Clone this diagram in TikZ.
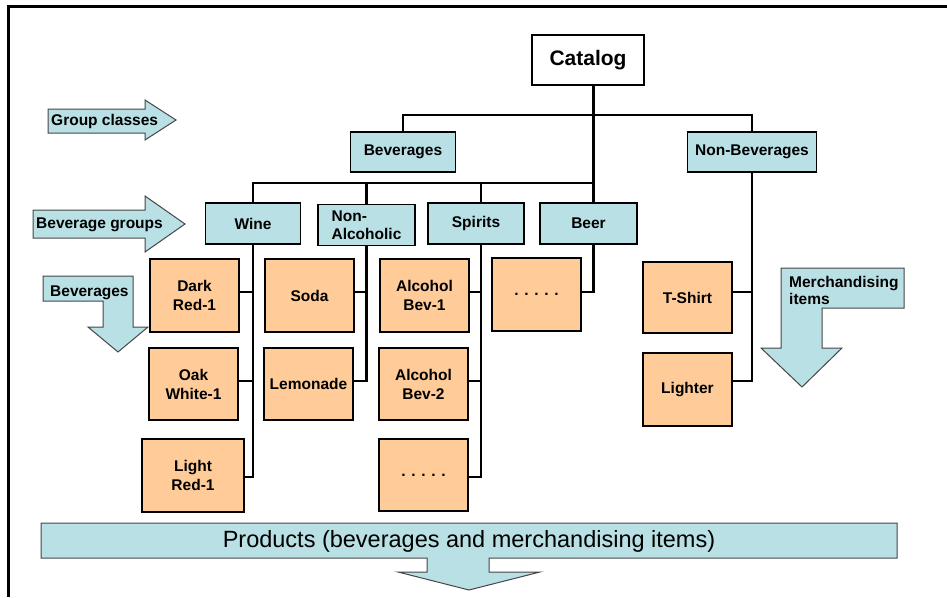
\documentclass[tikz,border=0pt]{standalone}
\usepackage{fontspec}
\setmainfont{Liberation Sans}
\definecolor{bluefill}{RGB}{185,224,228}
\definecolor{orangefill}{RGB}{255,204,153}
\definecolor{arrowline}{RGB}{70,70,70}
\begin{document}
\begin{tikzpicture}[x=1pt,y=-1pt,
  box/.style={draw=black, line width=1.8pt, inner sep=0pt, align=center,
    font=\bfseries\fontsize{15.5}{19}\selectfont},
  grp/.style={box, fill=bluefill, minimum height=41pt},
  item/.style={box, fill=orangefill, minimum width=89pt, minimum height=73pt},
  conn/.style={line width=2.9pt},
  arrowshape/.style={fill=bluefill, draw=arrowline, line width=1pt, line join=miter},
  lbl/.style={inner sep=0pt, font=\bfseries\fontsize{15.5}{19}\selectfont, align=left}]
\useasboundingbox (0,0) rectangle (947,597);
% frame
\draw[line width=3pt] (8,597) -- (8,6) -- (947,6);

% boxes
\node[box, fill=white, line width=2.8pt, minimum width=112pt, minimum height=50pt,
  font=\bfseries\fontsize{21}{25}\selectfont] (cat) at (588,60) {Catalog};
\node[grp, minimum width=105pt, minimum height=40pt] (bev) at (403,152) {Beverages};
\node[grp, minimum width=129pt, minimum height=40pt] (nb) at (752,152) {Non-Beverages};
\node[grp, minimum width=95pt] (wine) at (253,223.5) {Wine};
\node[grp, minimum width=97pt, align=left] (na) at (366.5,225) {Non-\\[-1pt]Alcoholic};
\node[grp, minimum width=96pt] (sp) at (476,223.5) {Spirits};
\node[grp, minimum width=97pt] (beer) at (588.5,223.5) {Beer};

\node[item] (dr) at (194.5,295.5) {Dark\\Red-1};
\node[item, minimum height=72pt] (ow) at (193.5,384) {Oak\\White-1};
\node[item, minimum width=102pt] (lr) at (193,475.5) {Light\\Red-1};
\node[item] (soda) at (309.5,295.5) {Soda};
\node[item, minimum height=72pt] (lem) at (308.5,384) {Lemonade};
\node[item] (ab1) at (424.5,295.5) {Alcohol\\Bev-1};
\node[item, minimum height=72pt] (ab2) at (423.5,384) {Alcohol\\Bev-2};
\node[item, minimum height=72pt] (sd) at (423.5,475) {. . . . .};
\node[item] (bd) at (536.5,294.5) {. . . . .};
\node[item, minimum height=71pt] (ts) at (687.5,297.5) {T-Shirt};
\node[item] (lig) at (687.5,389.5) {Lighter};

% bus coordinates
\coordinate (trunk) at (593.5,115);
\coordinate (bus2) at (593.5,183);
\coordinate (spx) at (481,183);

% connectors
\draw[conn] (trunk |- cat.south) -- (trunk |- beer.north);
\draw[conn] (bev.north) -- (bev.north |- trunk) -- (nb.north |- trunk) -- (nb.north);
\draw[conn] (wine.north) -- (wine.north |- bus2) -- (bus2);
\draw[conn] (na.north |- bus2) -- (na.north);
\draw[conn] (spx) -- (spx |- sp.north);
\draw[conn] (trunk |- beer.south) |- ([yshift=2.5pt]bd.east);

\draw[conn] (wine.south) |- ([yshift=-1.5pt]lr.east);
\draw[conn] ([yshift=3.5pt]dr.east) -- ([yshift=3.5pt]dr.east -| wine.south);
\draw[conn] ([yshift=3pt]ow.east) -- ([yshift=3pt]ow.east -| wine.south);

\draw[conn] (na.south) |- ([yshift=3pt]lem.east);
\draw[conn] ([yshift=3.5pt]soda.east) -- ([yshift=3.5pt]soda.east -| na.south);

\draw[conn] (spx |- sp.south) |- ([yshift=-2pt]sd.east);
\draw[conn] ([yshift=3.5pt]ab1.east) -- ([yshift=3.5pt]ab1.east -| spx);
\draw[conn] ([yshift=3pt]ab2.east) -- ([yshift=3pt]ab2.east -| spx);

\draw[conn] (nb.south) |- ([yshift=8.5pt]lig.east);
\draw[conn] ([yshift=5.5pt]ts.east) -- ([yshift=5.5pt]ts.east -| nb.south);

% arrows
\draw[arrowshape] (48,109) -- (145,109) -- (145,100) -- (176,120) -- (145,140) -- (145,133) -- (48,133) -- cycle;
\node[lbl, anchor=west] (gc) at (51,121) {Group classes};

\draw[arrowshape] (33,210) -- (145,210) -- (145,196) -- (185,224) -- (145,252) -- (145,238) -- (33,238) -- cycle;
\node[lbl, anchor=west] (bg) at (36,225) {Beverage groups};

\draw[arrowshape] (43,276) -- (133,276) -- (133,327) -- (148,327) -- (118,352) -- (88,327) -- (103,327) -- (103,301) -- (43,301) -- cycle;
\node[lbl, anchor=west] (bv) at (50,293) {Beverages};

\draw[arrowshape] (781,268) -- (904,268) -- (904,308) -- (822,308) -- (822,348) -- (842,348) -- (802,387) -- (761,348) -- (781,348) -- cycle;
\node[lbl, anchor=north west] (mi) at (789,276) {Merchandising\\[-2pt]items};

\draw[arrowshape] (41,523) -- (897,523) -- (897,558) -- (489,558) -- (489,572) -- (540,572) -- (469,590) -- (398,572) -- (427,572) -- (427,558) -- (41,558) -- cycle;
\node[inner sep=0pt, font=\fontsize{23.5}{28}\selectfont] (prod) at (469,541) {Products (beverages and merchandising items)};
\end{tikzpicture}
\end{document}
